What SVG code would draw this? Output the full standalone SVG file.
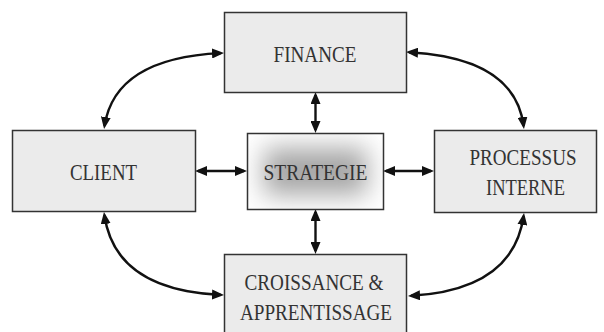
<svg xmlns="http://www.w3.org/2000/svg" width="604" height="332" viewBox="0 0 604 332">
  <defs>
    <!-- soft rectangular shading for the central box -->
    <filter id="soft" x="-60%" y="-60%" width="220%" height="220%">
      <feGaussianBlur stdDeviation="13"/>
    </filter>
    <clipPath id="coreClip">
      <rect x="247.5" y="133.5" width="136" height="76"/>
    </clipPath>
    <marker id="head" viewBox="0 0 12 10" markerWidth="12" markerHeight="10" refX="9" refY="5" orient="auto-start-reverse" markerUnits="userSpaceOnUse">
      <path d="M0,0 L12,5 L0,10 z" fill="#111"/>
    </marker>
  </defs>
  <style>
    .box { fill: #ebebeb; stroke: #333; stroke-width: 1.5; }
    .lbl { font-family: "Liberation Serif", "Times New Roman", serif; font-size: 24px; fill: #333; text-anchor: middle; }
    .link { fill: none; stroke: #111; stroke-width: 2.4; marker-start: url(#head); marker-end: url(#head); }
  </style>
  <rect width="604" height="332" fill="#fff"/>

  <g id="connectors">
    <path class="link" d="M221,53.1 Q115,58 104.5,126"/>
    <path class="link" d="M409,52.2 Q515,58 523.6,126"/>
    <path class="link" d="M104.4,215 Q115,290 221,294.9"/>
    <path class="link" d="M523.6,216 Q513,290 411,295.8"/>
    <path class="link" d="M315.5,95 L315.5,130"/>
    <path class="link" d="M315.5,212 L315.5,251"/>
    <path class="link" d="M198,171 L244,171"/>
    <path class="link" d="M386,171 L431,171"/>
  </g>

  <g id="finance">
    <rect class="box" x="224.5" y="12.5" width="182" height="80"/>
    <text class="lbl" x="315" y="62" textLength="83" lengthAdjust="spacingAndGlyphs">FINANCE</text>
  </g>

  <g id="client">
    <rect class="box" x="12.5" y="130.5" width="183" height="81"/>
    <text class="lbl" x="103.5" y="180" textLength="67" lengthAdjust="spacingAndGlyphs">CLIENT</text>
  </g>

  <g id="strategie">
    <rect x="247.5" y="133.5" width="136" height="76" fill="#fff"/>
    <g clip-path="url(#coreClip)">
      <rect x="264" y="148" width="103" height="47" fill="#a6a6a6" filter="url(#soft)"/>
    </g>
    <rect x="247.5" y="133.5" width="136" height="76" fill="none" stroke="#333" stroke-width="1.5"/>
    <text class="lbl" x="315.5" y="179.5" textLength="104" lengthAdjust="spacingAndGlyphs">STRATEGIE</text>
  </g>

  <g id="processus">
    <rect class="box" x="434.5" y="130.5" width="162" height="82"/>
    <text class="lbl" x="523" y="165" textLength="107" lengthAdjust="spacingAndGlyphs">PROCESSUS</text>
    <text class="lbl" x="525.5" y="195" textLength="79" lengthAdjust="spacingAndGlyphs">INTERNE</text>
  </g>

  <g id="croissance">
    <rect class="box" x="224.5" y="254.5" width="182" height="90"/>
    <text class="lbl" x="314" y="289.5" textLength="139" lengthAdjust="spacingAndGlyphs">CROISSANCE &amp;</text>
    <text class="lbl" x="316" y="319.5" textLength="152" lengthAdjust="spacingAndGlyphs">APPRENTISSAGE</text>
  </g>
</svg>
